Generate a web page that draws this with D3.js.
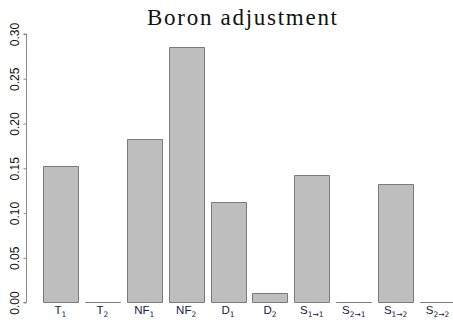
<!DOCTYPE html>
<html>
<head>
<meta charset="utf-8">
<script src="https://cdn.jsdelivr.net/npm/d3@7/dist/d3.min.js"></script>
<style>
  html, body { margin: 0; padding: 0; background: #fff; }
  svg { display: block; }
</style>
</head>
<body>
<svg id="chart" width="453" height="322"></svg>
<script>
// Bar categories: main letter plus subscript
const labelMain = ["T", "T", "NF", "NF", "D", "D", "S", "S", "S", "S"];
const labelSub  = ["1", "2", "1", "2", "1", "2", "1\u21921", "2\u21921", "1\u21922", "2\u21922"];
const values    = [0.153, 0, 0.183, 0.285, 0.112, 0.0103, 0.142, 0, 0.132, 0];
const yTicks    = [0, 0.05, 0.10, 0.15, 0.20, 0.25, 0.30];
const title     = "Boron adjustment";

const svg = d3.select("#chart");
const keys = d3.range(values.length);

const x = d3.scaleBand()
  .domain(keys)
  .range([39.5, 458.5])
  .paddingInner(1 / 6)
  .paddingOuter(1 / 12);

const y = d3.scaleLinear()
  .domain([0, 0.30])
  .range([302.5, 34]);

// Bars drawn as closed paths so zero-height bars still show their outline
svg.append("g")
  .selectAll("path")
  .data(keys)
  .join("path")
  .attr("d", i => {
    const x0 = Math.round(x(i)) + 0.5, x1 = Math.round(x(i) + x.bandwidth()) + 0.5;
    const y0 = Math.round(y(0)) - 0.5, y1 = Math.round(y(values[i])) + 0.5;
    return `M${x0},${y0}V${Math.min(y0, y1)}H${x1}V${y0}Z`;
  })
  .attr("fill", "#bebebe")
  .attr("stroke", "#7a7a7a")
  .attr("stroke-width", 1);

// Left axis
const yAxis = d3.axisLeft(y)
  .tickValues(yTicks)
  .tickFormat(d3.format(".2f"))
  .tickSize(3)
  .tickPadding(4);

const gy = svg.append("g")
  .attr("transform", "translate(26.5,0)")
  .call(yAxis);
gy.select(".domain").attr("stroke", "#8a8a8a").attr("d", `M-3,${y(0.30)}H0V${y(0)}H-3`);
gy.selectAll(".tick line").attr("stroke", "#8a8a8a");
gy.selectAll(".tick text")
  .attr("font-family", "Liberation Sans, Arial, sans-serif")
  .attr("font-size", 12)
  .attr("fill", "#111")
  .attr("text-anchor", "middle")
  .attr("x", 0)
  .attr("y", 0)
  .attr("dy", 0)
  .attr("transform", "translate(-8,0) rotate(-90)");

// Category labels with subscripts
const labels = svg.append("g")
  .selectAll("text")
  .data(keys)
  .join("text")
  .attr("x", i => x(i) + x.bandwidth() / 2)
  .attr("y", 313.5)
  .attr("text-anchor", "middle")
  .attr("font-family", "Liberation Sans, Arial, sans-serif")
  .attr("font-size", 11.5)
  .attr("fill", "#16224a");
labels.append("tspan").text(i => labelMain[i]);
labels.append("tspan")
  .attr("font-family", "DejaVu Sans, sans-serif")
  .attr("font-size", 7.5)
  .attr("dy", 3)
  .text(i => labelSub[i]);

// Title
svg.append("text")
  .attr("x", 242)
  .attr("y", 25)
  .attr("text-anchor", "middle")
  .attr("font-family", "Liberation Serif, serif")
  .attr("font-size", 23)
  .attr("textLength", 190)
  .attr("lengthAdjust", "spacing")
  .attr("fill", "#111")
  .text(title);
</script>
</body>
</html>
